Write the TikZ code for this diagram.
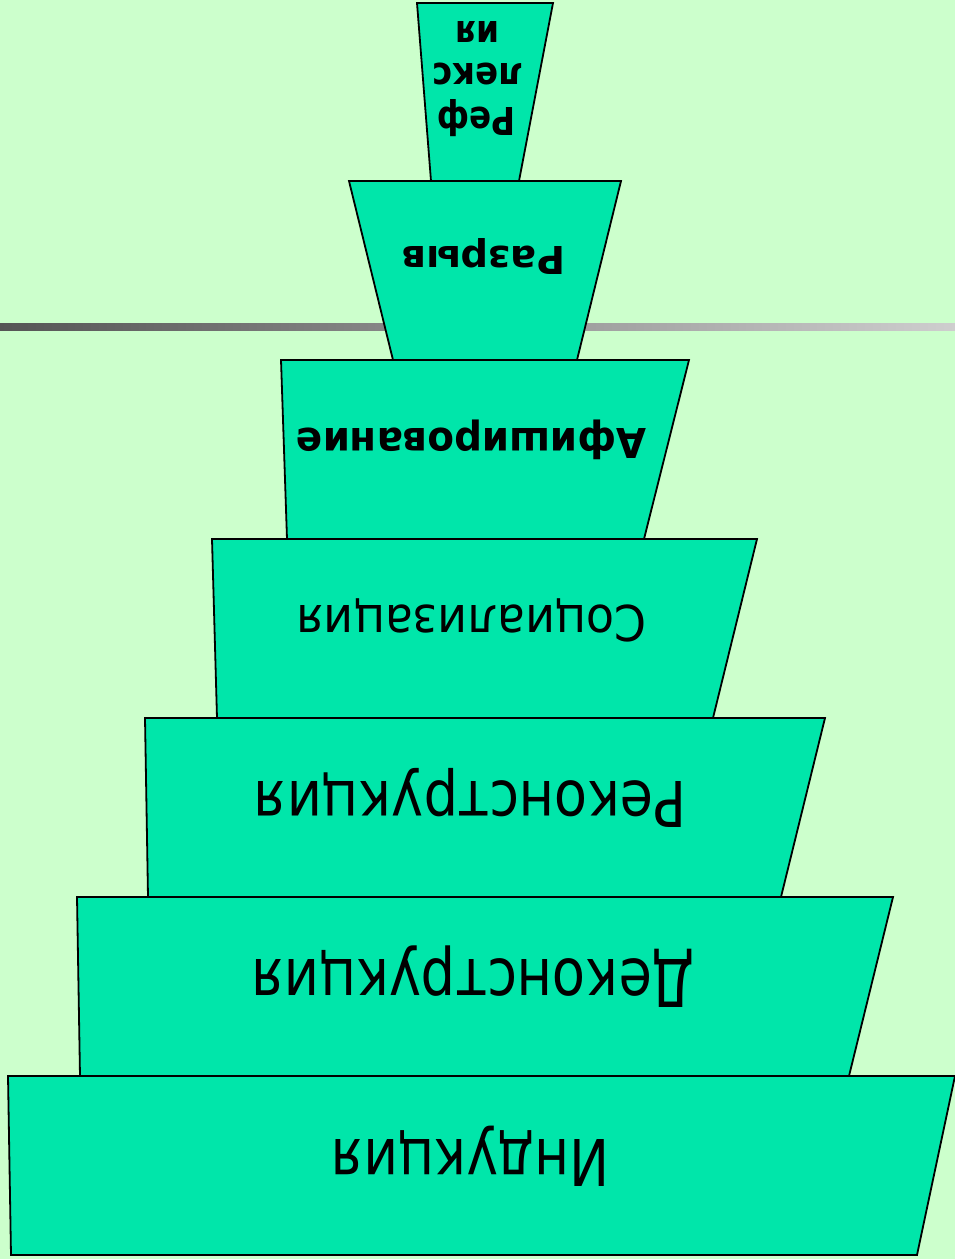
\documentclass[tikz,border=0pt]{standalone}
\usepackage{fontspec}
\setmainfont{DejaVu Sans}
\usepackage{graphicx}
\definecolor{bg}{RGB}{204,255,204}
\definecolor{tfill}{RGB}{0,230,170}
\definecolor{lineL}{RGB}{85,85,85}
\definecolor{lineR}{RGB}{206,206,206}
\tikzset{
  tier/.style={fill=tfill, draw=black, line width=1.8pt, line join=miter},
  lbl/.style={rotate=180, anchor=base, inner sep=0pt, text=black}
}
\newcommand{\fitlabel}[3]{\resizebox{#1pt}{#2pt}{\smash{#3}\vphantom{Н}}}
\begin{document}
\begin{tikzpicture}[x=1pt,y=-1pt]
\useasboundingbox (0,0) rectangle (955,1259);
\fill[bg] (0,0) rectangle (955,1259);
\shade[left color=lineL, right color=lineR] (0,323) rectangle (955,330);
% tiers
\filldraw[tier] (417,3) -- (553,3) -- (519,181) -- (431,181) -- cycle;
\filldraw[tier] (349,181) -- (621,181) -- (577,360) -- (393,360) -- cycle;
\filldraw[tier] (281,360) -- (689,360) -- (644,539) -- (287,539) -- cycle;
\filldraw[tier] (212,539) -- (757,539) -- (713,718) -- (217,718) -- cycle;
\filldraw[tier] (145,718) -- (825,718) -- (781,897) -- (148,897) -- cycle;
\filldraw[tier] (77,897) -- (893,897) -- (849,1076) -- (80,1076) -- cycle;
\filldraw[tier] (8,1076) -- (955,1076) -- (917,1255) -- (11,1255) -- cycle;
% labels
\node[lbl] (refl1) at (476.5,107) {\bfseries\fitlabel{78}{28}{Реф}};
\node[lbl] (refl2) at (478,63) {\bfseries\fitlabel{91}{28}{лекс}};
\node[lbl] (refl3) at (477.5,21) {\bfseries\fitlabel{44}{28}{ия}};
\node[lbl] (razryv) at (483.5,246) {\bfseries\fitlabel{163}{28}{Разрыв}};
\node[lbl] (afish) at (471.5,428) {\bfseries\fitlabel{350}{30}{Афиширование}};
\node[lbl] (soc) at (471.5,605) {\fitlabel{350}{36}{Социализация}};
\node[lbl] (rek) at (470.5,781) {\fitlabel{432}{46}{Реконструкция}};
\node[lbl] (dek) at (473,959) {\fitlabel{443}{48}{Деконструкция}};
\node[lbl] (ind) at (470.5,1139) {\fitlabel{278}{47}{Индукция}};
\end{tikzpicture}
\end{document}
